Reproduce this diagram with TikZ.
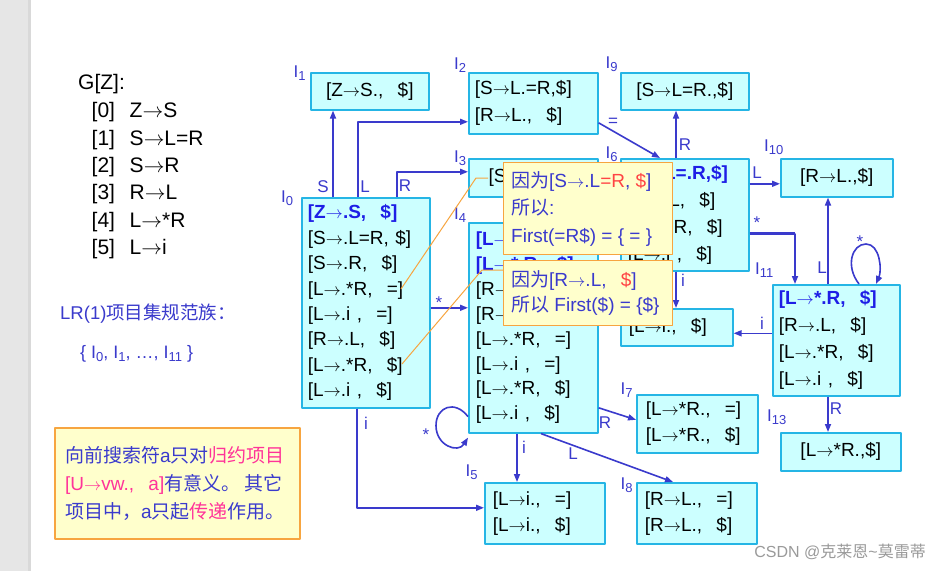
\documentclass[tikz,border=0pt]{standalone}
\usepackage{fontspec}
\setmainfont{Liberation Sans}
\newfontfamily\cjk{Noto Sans CJK SC}
\usetikzlibrary{arrows.meta}
\definecolor{boxfill}{HTML}{CCFFFF}
\definecolor{boxline}{HTML}{25B5E5}
\definecolor{hblue}{HTML}{1E1EE6}
\definecolor{eblue}{HTML}{3A3ACC}
\definecolor{callfill}{HTML}{FFFFCC}
\definecolor{callline}{HTML}{F7A540}
\definecolor{cred}{HTML}{FF4444}
\definecolor{cpink}{HTML}{FF3399}
\definecolor{stripgray}{HTML}{E6E6E6}
\definecolor{stripedge}{HTML}{D9D9D9}
\definecolor{wmgray}{HTML}{9A9A9A}
\newcommand\setfs[2]{\fontsize{#1}{#2}\selectfont}
\newcommand\toarrow{\ensuremath{\rightarrow}}
\newcommand\wcomma{,\hspace{0.75em}}
\newcommand\stlab[1]{I\raisebox{-3.5pt}{\setfs{13}{13}#1}}
\newcommand\headitem[1]{\textcolor{hblue}{\bfseries #1}}
\newcommand\redtxt[1]{\textcolor{cred}{#1}}
\newcommand\pinktxt[1]{\textcolor{cpink}{#1}}
\begin{document}
\begin{tikzpicture}[x=1pt,y=-1pt,line join=round,
  box/.style={draw=boxline, fill=boxfill, line width=1.6pt, anchor=north west, inner ysep=0pt, inner xsep=7pt, font=\setfs{19}{25.4}, text=black},
  lbox/.style={box, align=left},
  cbox/.style={box, align=center},
  edge/.style={draw=eblue, line width=1.6pt, -{Triangle[length=8pt,width=6pt]}},
  thickseg/.style={draw=eblue, line width=2.8pt},
  elab/.style={text=eblue, font=\setfs{17}{17}, inner sep=0pt, anchor=base},
  slab/.style={text=eblue, font=\setfs{17}{17}, inner sep=0pt, anchor=base west},
  gram/.style={anchor=base west, inner sep=0pt, font=\setfs{21}{21}, text=black},
  bluetxt/.style={anchor=base west, inner sep=0pt, font=\setfs{18.5}{18.5}, text=eblue},
  callout/.style={draw=callline, fill=callfill, line width=1.3pt, anchor=north west, inner sep=0pt},
  calltext/.style={text=eblue, align=left, font=\setfs{19}{27.5}, inner sep=0pt},
  ptr/.style={draw=callline, line width=1pt}]
\useasboundingbox (0,0) rectangle (940,571);
\fill[white] (0,0) rectangle (940,571);
\fill[stripgray] (0,0) rectangle (28,571);
\fill[stripedge] (28,0) rectangle (31,571);

% grammar
\node[gram] (g0) at (78,89.5) {G[Z]:};
\node[gram] (g1) at (91.5,117.5) {[0]\hspace{0.7em}Z\toarrow S};
\node[gram] (g2) at (91.5,145) {[1]\hspace{0.7em}S\toarrow L=R};
\node[gram] (g3) at (91.5,172.5) {[2]\hspace{0.7em}S\toarrow R};
\node[gram] (g4) at (91.5,199.5) {[3]\hspace{0.7em}R\toarrow L};
\node[gram] (g5) at (91.5,227) {[4]\hspace{0.7em}L\toarrow *R};
\node[gram] (g6) at (91.5,254.5) {[5]\hspace{0.7em}L\toarrow i};
\node[bluetxt] (lr) at (60,319) {LR(1){\cjk 项目集规范族：}};
\node[bluetxt, font=\setfs{18}{18}] (fam) at (80,358) {\{ \stlab{0}, \stlab{1}, …, \stlab{11} \}};

% item sets
\node[lbox, minimum width=128pt, minimum height=210pt, text width=116pt, inner xsep=6pt] (I0) at (301,197) {\headitem{[Z\toarrow.S\wcomma\$]}\\{}[S\toarrow.L=R, \$]\\{}[S\toarrow.R\wcomma\$]\\{}[L\toarrow.*R\wcomma=]\\{}[L\toarrow.i \wcomma=]\\{}[R\toarrow.L\wcomma\$]\\{}[L\toarrow.*R\wcomma\$]\\{}[L\toarrow.i \wcomma\$]};
\node[cbox, minimum width=118pt, minimum height=37pt] (I1) at (310,72) {[Z\toarrow S.\wcomma\$]};
\node[lbox, minimum width=129pt, minimum height=61pt, text width=117pt, inner xsep=6pt, font=\setfs{19}{27}] (I2) at (468,72) {[S\toarrow L.=R,\$]\\{}[R\toarrow L.\wcomma\$]};
\node[cbox, minimum width=128pt, minimum height=37pt] (I9) at (620,72) {[S\toarrow L=R.,\$]};
\node[cbox, minimum width=129pt, minimum height=38pt] (I3) at (468,158) {[S\toarrow R.\wcomma\$]};
\node[lbox, minimum width=128pt, minimum height=112pt, text width=114pt, font=\setfs{19}{27}] (I6) at (620,158) {\headitem{[S\toarrow L=.R,\$]}\\{}[R\toarrow.L\wcomma\$]\\{}[L\toarrow.*R\wcomma\$]\\{}[L\toarrow.i \wcomma\$]};
\node[cbox, minimum width=112pt, minimum height=38pt] (I10) at (780,158) {[R\toarrow L.,\$]};
\node[lbox, minimum width=129pt, minimum height=210pt, text width=115pt, font=\setfs{19}{24.9}] (I4) at (468,222) {\headitem{[L\toarrow*.R\wcomma=]}\\\headitem{[L\toarrow*.R\wcomma\$]}\\{}[R\toarrow.L\wcomma=]\\{}[R\toarrow.L\wcomma\$]\\{}[L\toarrow.*R\wcomma=]\\{}[L\toarrow.i \wcomma=]\\{}[L\toarrow.*R\wcomma\$]\\{}[L\toarrow.i \wcomma\$]};
\node[lbox, minimum width=112pt, minimum height=37pt, text width=96pt, inner xsep=8pt] (I12) at (620,308) {[L\toarrow i.\wcomma\$]};
\node[lbox, minimum width=127pt, minimum height=111pt, text width=115pt, inner xsep=6pt, font=\setfs{19}{27}] (I11) at (772,284) {\headitem{[L\toarrow*.R\wcomma\$]}\\{}[R\toarrow.L\wcomma\$]\\{}[L\toarrow.*R\wcomma\$]\\{}[L\toarrow.i \wcomma\$]};
\node[cbox, minimum width=120pt, minimum height=38pt] (I13) at (780,432) {[L\toarrow*R.,\$]};
\node[lbox, minimum width=121pt, minimum height=58pt, text width=103pt, inner xsep=9pt, font=\setfs{19}{25.5}] (I7) at (636,394) {[L\toarrow*R.\wcomma=]\\{}[L\toarrow*R.\wcomma\$]};
\node[lbox, minimum width=120pt, minimum height=61pt, text width=104pt, inner xsep=8pt, font=\setfs{19}{26}] (I5) at (484,482) {[L\toarrow i.\wcomma=]\\{}[L\toarrow i.\wcomma\$]};
\node[lbox, minimum width=120pt, minimum height=61pt, text width=104pt, inner xsep=8pt, font=\setfs{19}{26}] (I8) at (636,482) {[R\toarrow L.\wcomma=]\\{}[R\toarrow L.\wcomma\$]};

% state labels
\node[slab] (n0) at (281,202) {\stlab{0}};
\node[slab] (n1) at (293.5,77) {\stlab{1}};
\node[slab] (n2) at (454,69) {\stlab{2}};
\node[slab] (n9) at (605.5,68) {\stlab{9}};
\node[slab] (n3) at (454,162) {\stlab{3}};
\node[slab] (n6) at (605.5,158) {\stlab{6}};
\node[slab] (n10) at (764,151) {\stlab{10}};
\node[slab] (n4) at (454,219) {\stlab{4}};
\node[slab] (n11) at (755,274) {\stlab{11}};
\node[slab] (n13) at (767,421) {\stlab{13}};
\node[slab] (n7) at (620.5,394) {\stlab{7}};
\node[slab] (n5) at (465.5,476) {\stlab{5}};
\node[slab] (n8) at (620.5,489) {\stlab{8}};

% connectors
\coordinate (e1) at ([xshift=32pt]I0.north west);
\draw[edge] (e1) -- (e1 |- I1.south);
\coordinate (e2) at ([xshift=57pt]I0.north west);
\coordinate (e2t) at ([yshift=-18.5pt]I2.west);
\draw[edge] (e2) |- (e2t);
\coordinate (e3) at ([xshift=96pt]I0.north west);
\coordinate (e3t) at ([yshift=6pt]I3.west);
\draw[edge] (e3) |- (e3t);
\coordinate (e4) at ([yshift=-5pt]I0.east);
\draw[edge] (e4) -- (e4 -| I4.west);
\coordinate (e5) at ([xshift=56pt]I0.south west);
\coordinate (e5t) at ([yshift=5.5pt]I5.west);
\draw[edge] (e5) |- (e5t);
\draw[thickseg] (e5) -- (e5 |- e5t);
\coordinate (l4a) at ([yshift=17pt]I4.south west);
\coordinate (l4b) at ([yshift=-4pt]I4.south west);
\coordinate (l4m) at ([xshift=-32pt,yshift=-9pt]l4a);
\draw[edge] (l4a) .. controls +(-13,-17) and +(0,-19) .. (l4m) .. controls +(0,20) and +(-10,16) .. (l4b);
\coordinate (e7) at ([xshift=49pt]I4.south west);
\draw[edge] (e7) -- (e7 |- I5.north);
\coordinate (e8) at ([yshift=-80pt]I4.east);
\coordinate (e8t) at ([yshift=4pt]I7.west);
\draw[edge] (e8) -- (e8t);
\coordinate (e9) at ([xshift=73pt]I4.south west);
\coordinate (e9t) at ([xshift=37pt]I8.north west);
\draw[edge] (e9) -- (e9t);
\coordinate (e10) at ([yshift=-19.5pt]I2.east);
\coordinate (e10t) at ([xshift=40pt]I6.north west);
\draw[edge] (e10) -- (e10t);
\coordinate (e11) at ([xshift=56pt]I6.north west);
\draw[edge] (e11) -- (e11 |- I9.south);
\coordinate (e12t) at ([yshift=-6pt]I10.west);
\draw[edge] (e12t -| I6.east) -- (e12t);
\coordinate (e13) at ([yshift=-19pt]I6.east);
\coordinate (e13t) at ([xshift=23pt]I11.north west);
\draw[edge] (e13) -| (e13t);
\draw[thickseg] (e13) -- (e13 -| e13t);
\coordinate (e14) at ([xshift=56pt]I6.south west);
\draw[edge] (e14) -- (e14 |- I12.north);
\coordinate (e15) at ([xshift=56pt]I11.north west);
\draw[edge] (e15) -- (e15 |- I10.south);
\coordinate (l11a) at ([xshift=87pt]I11.north west);
\coordinate (l11b) at ([xshift=104pt]I11.north west);
\coordinate (l11m) at ([xshift=94pt,yshift=40pt]I11.north west);
\draw[edge] (l11a) .. controls +(-14,-18) and +(-14,0) .. (l11m) .. controls +(14,0) and +(6,-14) .. (l11b);
\coordinate (e16) at ([yshift=7pt]I11.west);
\draw[edge] (e16) -- (e16 -| I12.east);
\coordinate (e17) at ([xshift=56pt]I11.south west);
\draw[edge] (e17) -- (e17 |- I13.north);

% edge labels
\node[elab] (t1) at (323,192) {S};
\node[elab] (t2) at (365,192) {L};
\node[elab] (t3) at (405,191) {R};
\node[elab] (t4) at (439,308) {*};
\node[elab] (t5) at (366,429) {i};
\node[elab] (t6) at (426,440) {*};
\node[elab] (t7) at (524,453) {i};
\node[elab] (t8) at (605,428) {R};
\node[elab] (t9) at (573,459) {L};
\node[elab] (t10) at (613,126) {=};
\node[elab] (t11) at (685,150) {R};
\node[elab] (t12) at (757,178) {L};
\node[elab] (t13) at (757,228) {*};
\node[elab] (t14) at (683,286) {i};
\node[elab] (t15) at (822,273) {L};
\node[elab] (t16) at (860,247) {*};
\node[elab] (t17) at (762,329) {i};
\node[elab] (t18) at (836,414) {R};

% callouts
\coordinate (p1a) at (488,178);
\coordinate (p1b) at (476,178);
\coordinate (p1c) at (401,289);
\draw[ptr] (p1a) -- (p1b) -- (p1c);
\coordinate (p2a) at (503,270);
\coordinate (p2b) at (482,270);
\coordinate (p2c) at (402,364);
\draw[ptr] (p2a) -- (p2b) -- (p2c);
\node[callout, minimum width=169pt, minimum height=92pt] (cal1) at (503,162) {};
\node[calltext, anchor=west] (cal1t) at ([xshift=8pt]cal1.west) {{\cjk 因为}[S\toarrow.L\redtxt{=R}, \redtxt{\$}]\\{\cjk 所以}:\\First(=R\$) = \{ = \}};
\node[callout, minimum width=169pt, minimum height=65pt] (cal2) at (503,260) {};
\node[calltext, anchor=west, font=\setfs{19}{25.5}] (cal2t) at ([xshift=8pt]cal2.west) {{\cjk 因为}[R\toarrow.L\wcomma\redtxt{\$}]\\{\cjk 所以} First(\$) = \{\$\}};

% note
\node[callout, draw=callline, line width=1.6pt, minimum width=245pt, minimum height=111pt] (note) at (54,427) {};
\node[calltext, anchor=west, font=\setfs{19}{28}] (notet) at ([xshift=11pt]note.west) {{\cjk 向前搜索符}a{\cjk 只对}\pinktxt{\cjk 归约项目}\\{}\pinktxt{[U\toarrow vw.\wcomma a]}{\cjk 有意义。 其它}\\{\cjk 项目中，}a{\cjk 只起}\pinktxt{\cjk 传递}{\cjk 作用。}};

% watermark
\node[anchor=base east, text=wmgray, font=\setfs{16}{16}, inner sep=0pt] (wm) at (926,557) {CSDN @{\cjk 克莱恩}\textasciitilde{\cjk 莫雷蒂}};
\end{tikzpicture}
\end{document}
